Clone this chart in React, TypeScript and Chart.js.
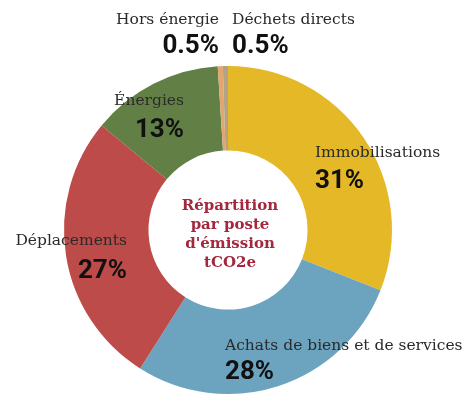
import React, { useEffect, useRef } from "react";
import { Chart, registerables } from "chart.js";

Chart.register(...registerables);

const categories = [
  "Immobilisations",
  "Achats de biens et de services",
  "Déplacements",
  "Énergies",
  "Hors énergie",
  "Déchets directs",
];
const shares = [31, 28, 27, 13, 0.5, 0.5];
const shareLabels = ["31%", "28%", "27%", "13%", "0.5%", "0.5%"];
const sliceColors = ["#E4B826", "#6CA4BF", "#BD4B49", "#628045", "#E2A66F", "#B2A386"];
const centerLines = ["Répartition", "par poste", "d'émission", "tCO2e"];

// text placement relative to doughnut centre: [dx, dy of name, dy of percent, align]
const labelLayout: [number, number, number, CanvasTextAlign][] = [
  [87, -77, -49, "left"],
  [-3, 116, 142, "left"],
  [-101, 11, 41, "right"],
  [-44, -129, -100, "right"],
  [-9, -210, -184, "right"],
  [4, -210, -184, "left"],
];

const labelPlugin = {
  id: "labels",
  afterDraw(chart: any) {
    const meta = chart.getDatasetMeta(0);
    const arc = meta.data[0];
    if (!arc) return;
    const cx = arc.x;
    const cy = arc.y;
    const ctx = chart.ctx;
    ctx.save();
    ctx.textBaseline = "middle";
    categories.forEach((name, i) => {
      const [dx, dyN, dyP, align] = labelLayout[i];
      ctx.textAlign = align;
      ctx.fillStyle = "#2A2A2A";
      ctx.font = "15.5px 'DejaVu Serif'";
      ctx.fillText(name, cx + dx, cy + dyN);
      ctx.fillStyle = "#111111";
      ctx.font = "bold 26px Roboto";
      ctx.fillText(shareLabels[i], cx + dx, cy + dyP);
    });
    ctx.textAlign = "center";
    ctx.fillStyle = "#A3283D";
    ctx.font = "bold 15px 'DejaVu Serif'";
    const lh = 19;
    const start = cy + 5 - ((centerLines.length - 1) * lh) / 2;
    centerLines.forEach((l, i) => ctx.fillText(l, cx + 2, start + i * lh));
    ctx.restore();
  },
};

export default function App() {
  const ref = useRef<HTMLCanvasElement | null>(null);
  useEffect(() => {
    document.body.style.margin = "0";
    const chart = new Chart(ref.current as HTMLCanvasElement, {
      type: "doughnut",
      data: {
        labels: categories,
        datasets: [
          {
            data: shares,
            backgroundColor: sliceColors,
            borderWidth: 0,
          },
        ],
      },
      options: {
        animation: false,
        responsive: false,
        cutout: "48.5%",
        layout: { padding: { top: 66, bottom: 10, left: 64, right: 72 } },
        plugins: {
          legend: { display: false },
          tooltip: { enabled: false },
        },
      },
      plugins: [labelPlugin],
    });
    return () => chart.destroy();
  }, []);
  return (
    <div style={{ position: "absolute", left: 0, top: 0, width: 464, height: 404, background: "#fff" }}>
      <canvas ref={ref} width={464} height={404} style={{ width: 464, height: 404 }} />
    </div>
  );
}
